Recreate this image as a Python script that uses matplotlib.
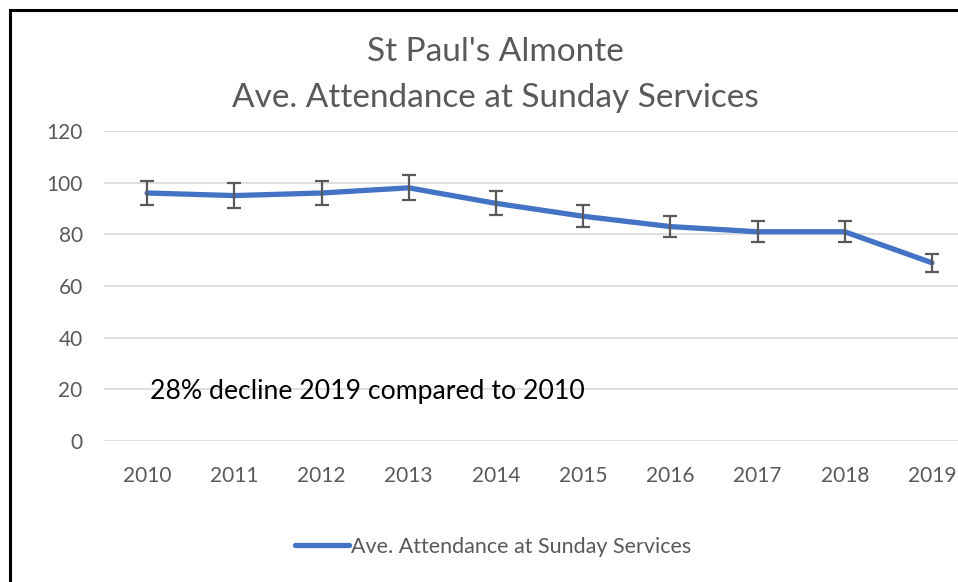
import matplotlib.pyplot as plt
from matplotlib.patches import Rectangle

years = ['2010', '2011', '2012', '2013', '2014', '2015', '2016', '2017', '2018', '2019']
attendance = [96, 95, 96, 98, 92, 87, 83, 81, 81, 69]
err_pct = 0.05  # Excel-style 5% error bars

plt.rcParams['font.family'] = ['Lato', 'DejaVu Sans']

fig = plt.figure(figsize=(9.58, 5.82), dpi=100)
ax = fig.add_axes([103.5 / 958, 141 / 582, 872 / 958, 310 / 582])

x = list(range(len(years)))
errs = [v * err_pct for v in attendance]
ax.plot(x, attendance, color='#4472C4', linewidth=3.8, solid_capstyle='round',
        label='Ave. Attendance at Sunday Services', zorder=3)
ax.errorbar(x, attendance, yerr=errs, fmt='none', ecolor='#595959',
            elinewidth=1.6, capsize=5, capthick=1.6, zorder=4)

ax.set_xlim(-0.5, len(years) - 0.5)
ax.set_ylim(0, 120)
ax.set_yticks(range(0, 121, 20))
ax.set_xticks(x)
ax.set_xticklabels(years)
ax.tick_params(length=0, labelsize=15, colors='#595959')
ax.tick_params(axis='x', pad=18)
ax.tick_params(axis='y', pad=15)
ax.grid(axis='y', color='#D9D9D9', linewidth=1.2)
ax.set_axisbelow(True)
for s in ax.spines.values():
    s.set_visible(False)

ax.text(0.03, 19, '28% decline 2019 compared to 2010', fontsize=19.2,
        color='black', va='center', ha='left')

fig.text(495 / 958, 1 - 52 / 582, "St Paul's Almonte", ha='center', va='center',
         fontsize=24, color='#595959')
fig.text(495 / 958, 1 - 98 / 582, 'Ave. Attendance at Sunday Services', ha='center',
         va='center', fontsize=24, color='#595959')

leg = fig.legend(loc='center', bbox_to_anchor=(493 / 958, 1 - 547 / 582), frameon=False,
                 fontsize=15.5, handlelength=2.5, handletextpad=0.1)
for t in leg.get_texts():
    t.set_color('#595959')

# outer chart frame (left and top edges visible)
fig.patches.append(Rectangle((10 / 958, -0.1), 1.2, 0.1 + (582 - 10) / 582,
                             transform=fig.transFigure, fill=False,
                             edgecolor='black', linewidth=2.2))

fig.savefig('out.png', dpi=100)
